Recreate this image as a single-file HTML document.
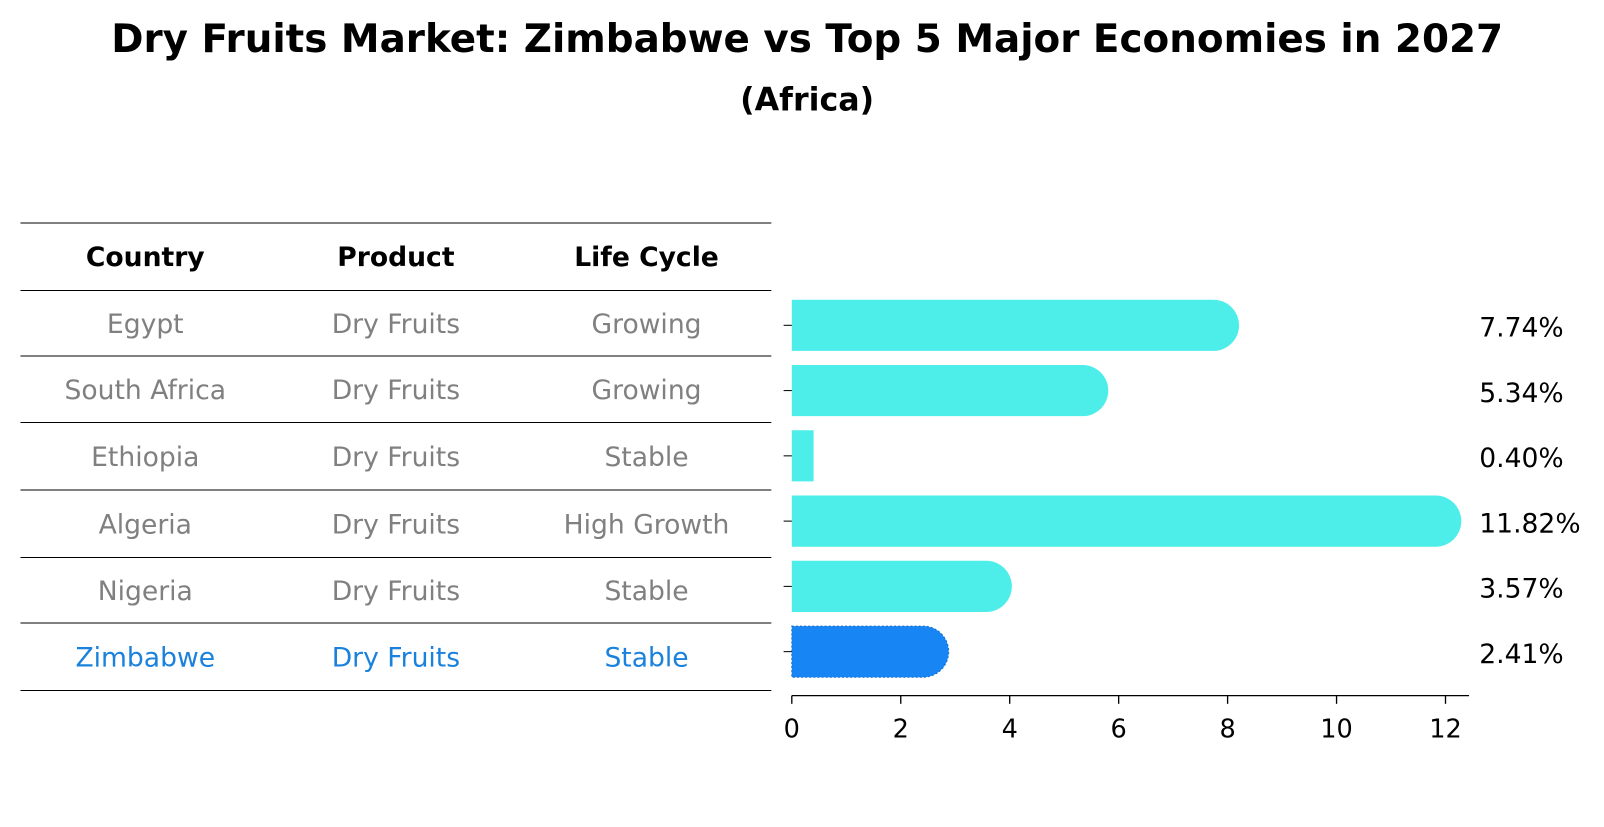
<!DOCTYPE html>
<html><head><meta charset="utf-8"><style>
body{margin:0;background:#fff;font-family:"DejaVu Sans","Liberation Sans",sans-serif;}
svg text{font-family:"DejaVu Sans","Liberation Sans",sans-serif;}
</style></head><body>
<svg id="c" width="1604" height="823" viewBox="0 0 1604 823" xmlns="http://www.w3.org/2000/svg">
<g transform="scale(1.023)">
<text x="789" y="51" text-anchor="middle" font-size="38" font-weight="bold">Dry Fruits Market: Zimbabwe vs Top 5 Major Economies in 2027</text>
<text x="789" y="108" text-anchor="middle" font-size="31" font-weight="bold">(Africa)</text>
<g id="table"></g>
<g id="bars"></g>
</g>
</svg>
<script>
const countries=["Egypt","South Africa","Ethiopia","Algeria","Nigeria","Zimbabwe"];
const products=["Dry Fruits","Dry Fruits","Dry Fruits","Dry Fruits","Dry Fruits","Dry Fruits"];
const lifeCycles=["Growing","Growing","Stable","High Growth","Stable","Stable"];
const values=[7.74,5.34,0.40,11.82,3.57,2.41];
const xTicks=[0,2,4,6,8,10,12];
const NS="http://www.w3.org/2000/svg";
function mk(tag,attrs,parent,txt){const e=document.createElementNS(NS,tag);for(const k in attrs)e.setAttribute(k,attrs[k]);if(txt!==undefined)e.textContent=txt;parent.appendChild(e);return e;}
const x=v=>774+v*53.25;
const rowY=i=>318+i*63.8;
const tbl=document.getElementById('table');
const lines=[218,284,348,413,479,545,609,675];
lines.forEach(ly=>{const l=mk('line',{x1:20,x2:754,y1:ly,y2:ly,stroke:'#000','stroke-width':1},tbl);

});
const cols=[142,387,632];
["Country","Product","Life Cycle"].forEach((h,j)=>{const t=mk('text',{x:cols[j],y:260,'text-anchor':'middle','font-size':26,'font-weight':'bold'},tbl,h);

});
countries.forEach((c,i)=>{const cy=(lines[i+1]+lines[i+2])/2+9.5;const col=c==="Zimbabwe"?"#1a82dc":"#808080";
[c,products[i],lifeCycles[i]].forEach((v,j)=>{const t=mk('text',{x:cols[j],y:cy,'text-anchor':'middle','font-size':26,fill:col},tbl,v);

});});
const g=document.getElementById('bars');
const h=50,r=25;
values.forEach((v,i)=>{const cy=rowY(i);const z=countries[i]==="Zimbabwe";const fill=z?"#1785f3":"#4deee9";
const xe=x(v);let d;
if(v>0.6){d=`M774 ${cy-h/2} H${xe} A${r} ${r} 0 0 1 ${xe} ${cy+h/2} H774 Z`;}else{d=`M774 ${cy-h/2} H${xe} V${cy+h/2} H774 Z`;}
const p=mk('path',{d:d,fill:fill},g);
if(z){p.setAttribute('stroke','#1570d0');p.setAttribute('stroke-dasharray','2 2');p.setAttribute('stroke-width','1');}


const t=mk('text',{x:1446,y:cy+11,'font-size':26},g,v.toFixed(2)+'%');


const tk=mk('line',{x1:766,x2:774,y1:cy,y2:cy,stroke:'#000','stroke-width':1},g);

});
const ax=mk('line',{x1:774,x2:1436,y1:680,y2:680,stroke:'#000','stroke-width':1.3},g);


xTicks.forEach(v=>{const l=mk('line',{x1:x(v),x2:x(v),y1:680,y2:688,stroke:'#000','stroke-width':1.3},g);


const t=mk('text',{x:x(v),y:721,'text-anchor':'middle','font-size':25},g,String(v));

});
</script>
</body></html>
